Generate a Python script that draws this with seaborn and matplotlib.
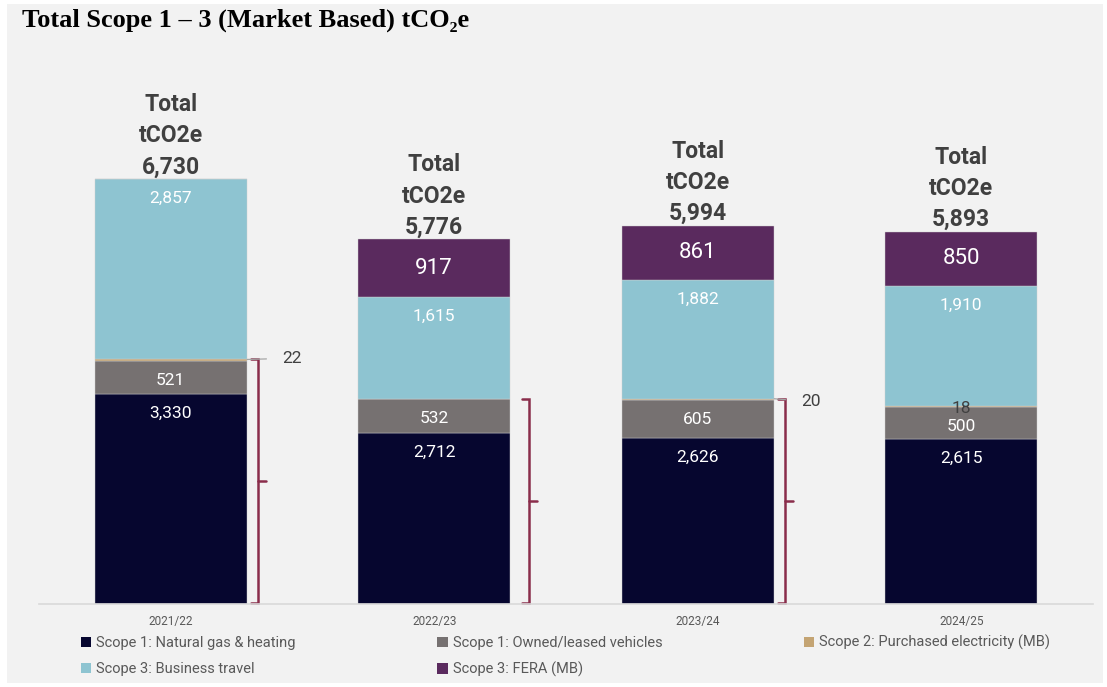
import matplotlib
matplotlib.use("Agg")
import matplotlib.pyplot as plt
from matplotlib.patches import Rectangle, Patch
import seaborn as sns
import pandas as pd
import numpy as np

# ==========================================
# DATA
# ==========================================
years = ["2021/22", "2022/23", "2023/24", "2024/25"]
natural_gas = [3330, 2712, 2626, 2615]
vehicles = [521, 532, 605, 500]
electricity = [22, 0, 20, 18]
business_travel = [2857, 1615, 1882, 1910]
fera = [0, 917, 861, 850]

series_names = [
    "Scope 1: Natural gas & heating",
    "Scope 1: Owned/leased vehicles",
    "Scope 2: Purchased electricity (MB)",
    "Scope 3: Business travel",
    "Scope 3: FERA (MB)",
]
series_values = [natural_gas, vehicles, electricity, business_travel, fera]
colors = ["#06062F", "#767171", "#C4A473", "#8EC4D1", "#5A2A5E"]

# ==========================================
# STYLE
# ==========================================
sns.set_theme(style="white")
plt.rcParams["font.family"] = ["Roboto", "DejaVu Sans"]
BRACKET = "#8A2D4B"
TEXT_DARK = "#404040"

fig = plt.figure(figsize=(11.07, 6.87), dpi=100)
fig.patch.set_facecolor("white")
fig.patches.append(Rectangle((7 / 1107, 4 / 687), 1096 / 1107, 679 / 687,
                             transform=fig.transFigure, facecolor="#F2F2F2",
                             edgecolor="none", zorder=-10))

ax = fig.add_axes([39 / 1107, 83 / 687, 1054 / 1107, 543 / 687])
ax.set_facecolor("none")

# ==========================================
# STACKED BARS
# ==========================================
df = pd.DataFrame({"year": years})
bottom = np.zeros(len(years))
for name, vals, col in zip(series_names, series_values, colors):
    df["v"] = vals
    sns.barplot(data=df, x="year", y="v", color=col, width=0.577,
                bottom=bottom, ax=ax, edgecolor="#D0D0D0", linewidth=0.3,
                saturation=1)
    bottom = bottom + np.array(vals)

totals = bottom
ax.set_xlim(-0.5, 3.5)
ax.set_ylim(0, 8600)

# ==========================================
# SEGMENT LABELS
# ==========================================
for i in range(len(years)):
    cum = 0
    for k, vals in enumerate(series_values):
        v = vals[i]
        lo, hi = cum, cum + v
        cum = hi
        if v == 0 or k == 2:  # electricity slivers handled below
            continue
        if k == 4:  # FERA - centred, larger
            ax.text(i, (lo + hi) / 2, f"{v:,}", ha="center", va="center",
                    color="white", fontsize=16)
        else:
            ax.annotate(f"{v:,}", xy=(i, hi), xytext=(0, -14),
                        textcoords="offset points", ha="center", va="center",
                        color="white", fontsize=12.5)

    # totals
    ax.annotate(f"Total\ntCO2e\n{totals[i]:,.0f}", xy=(i, totals[i]),
                xytext=(0, 0.5), textcoords="offset points", ha="center",
                va="bottom", fontsize=16.5, fontweight="bold",
                color=TEXT_DARK, linespacing=1.45)

# electricity labels
elec_top = np.array(natural_gas) + np.array(vehicles) + np.array(electricity)
leader = {0: (0.46, 20), 2: (0.43, -50)}
for i, (dx, dy) in leader.items():
    ax.annotate(f"{electricity[i]}", xy=(i + 0.29, elec_top[i]),
                xytext=(i + dx, elec_top[i] + dy), ha="center", va="center",
                fontsize=12.5, color=TEXT_DARK,
                arrowprops=dict(arrowstyle="-", color="#A6A6A6", lw=0.9,
                                shrinkA=9, shrinkB=0))
ax.text(3, elec_top[3] - 30, f"{electricity[3]}", ha="center", va="center",
        fontsize=12.5, color=TEXT_DARK)

# ==========================================
# BRACKETS (Scope 1 + 2)
# ==========================================
bracket_off = {0: 0.33, 1: 0.36, 2: 0.33}
for i, off in bracket_off.items():
    x = i + off
    top = elec_top[i]
    bot = 15
    ax.plot([x - 0.027, x, x, x - 0.027], [top, top, bot, bot],
            color=BRACKET, lw=1.8, solid_joinstyle="miter", clip_on=False)
    mid = (top + bot) / 2
    ax.plot([x, x + 0.03], [mid, mid], color=BRACKET, lw=1.8, clip_on=False)

# ==========================================
# AXES
# ==========================================
if ax.get_legend() is not None:
    ax.get_legend().remove()
sns.despine(ax=ax, left=True)
ax.spines["bottom"].set_color("#D9D9D9")
ax.spines["bottom"].set_linewidth(1.2)
ax.set_yticks([])
ax.set_xlabel("")
ax.set_ylabel("")
ax.tick_params(axis="x", length=0, pad=8)
for t in ax.get_xticklabels():
    t.set_fontsize(8.5)
    t.set_color("#595959")

# legend (row-major order over 3 columns)
handles = [Patch(facecolor=c, edgecolor="none") for c in colors]
order = [0, 3, 1, 4, 2]
leg = fig.legend([handles[j] for j in order], [series_names[j] for j in order],
                 loc="upper left", bbox_to_anchor=(68 / 1107, 1 - 622 / 687),
                 ncol=3, frameon=False, handlelength=0.7, handleheight=0.7,
                 handletextpad=0.35, columnspacing=9.7, labelspacing=0.8,
                 prop={"size": 10.5})
for t in leg.get_texts():
    t.set_color("#595959")

fig.text(22 / 1107, 1 - 20 / 687, "Total Scope 1 – 3 (Market Based) tCO₂e",
         ha="left", va="center", fontsize=19, fontweight="bold",
         family=["Liberation Serif", "DejaVu Serif"], color="black")

fig.savefig("out.png", dpi=100)
